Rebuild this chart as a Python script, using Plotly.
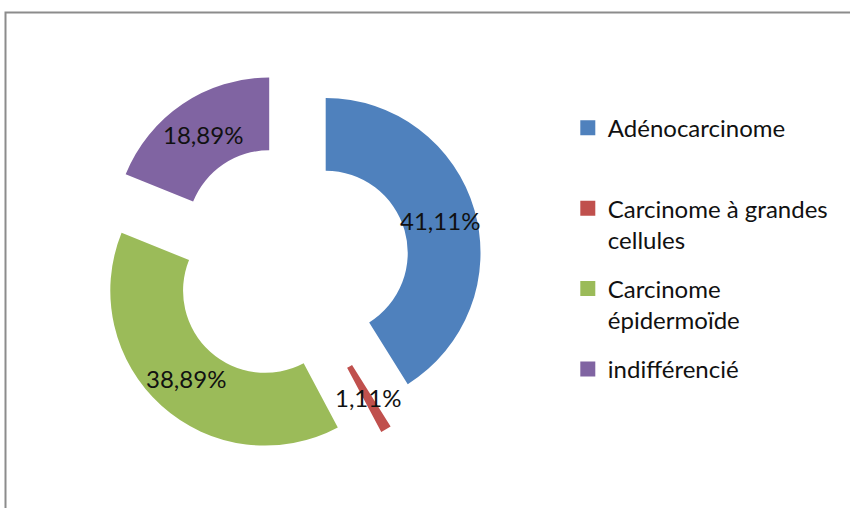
import math
import plotly.graph_objects as go

# Répartition des types histologiques (%)
labels = ["Adénocarcinome", "Carcinome à grandes cellules", "Carcinome épidermoïde", "indifférencié"]
legend_text = ["Adénocarcinome<br> ", "Carcinome à grandes<br>cellules",
               "Carcinome<br>épidermoïde", "indifférencié<br> "]
values = [41.11, 1.11, 38.89, 18.89]
colors = ["#4F81BD", "#C0504D", "#9BBB59", "#8064A2"]

W, H = 850, 508
HOLE = 0.53
PULL = 0.24
DOM_X = [0.1153, 0.567]
DOM_Y = [0.104, 0.860]
FONT = "Lato"

fig = go.Figure()
fig.add_trace(go.Pie(
    labels=labels,
    values=values,
    hole=HOLE,
    pull=[PULL] * len(values),
    sort=False,
    direction="clockwise",
    rotation=0,
    marker=dict(colors=colors, line=dict(width=0)),
    textinfo="none",
    hoverinfo="label+percent",
    domain=dict(x=DOM_X, y=DOM_Y),
    showlegend=False,
))

# Légende : une entrée par type histologique
for name, txt, col in zip(labels, legend_text, colors):
    fig.add_trace(go.Scatter(
        x=[None], y=[None], mode="markers", name=txt, legendgroup=name,
        marker=dict(symbol="square", size=15, color=col),
        hoverinfo="skip",
    ))

# Étiquettes de pourcentage au milieu de l'anneau de chaque secteur
cx = W * (DOM_X[0] + DOM_X[1]) / 2
cy = H * (1 - (DOM_Y[0] + DOM_Y[1]) / 2)
r = min(W * (DOM_X[1] - DOM_X[0]), H * (DOM_Y[1] - DOM_Y[0])) / 2 / (1 + PULL)
total = sum(values)
start = 0.0
annotations = []
for v in values:
    mid = (start + v / 2) / total * 2 * math.pi
    start += v
    rr = r * PULL + r * (1 + HOLE) / 2
    px = cx + rr * math.sin(mid)
    py = cy - rr * math.cos(mid)
    annotations.append(dict(
        x=px / W, y=1 - py / H, xref="paper", yref="paper",
        xanchor="center", yanchor="middle",
        text=f"{v:.2f}".replace(".", ",") + "%",
        showarrow=False, font=dict(family=FONT, size=24, color="#111111"),
    ))

fig.update_layout(
    width=W, height=H,
    margin=dict(l=0, r=0, t=0, b=0),
    paper_bgcolor="white",
    plot_bgcolor="white",
    xaxis=dict(visible=False),
    yaxis=dict(visible=False),
    showlegend=True,
    legend=dict(
        x=0.668, y=0.792, xanchor="left", yanchor="top",
        valign="top", traceorder="grouped", tracegroupgap=15,
        font=dict(family=FONT, size=24, color="#111111"),
        bgcolor="rgba(0,0,0,0)",
    ),
    annotations=annotations,
    shapes=[dict(
        type="rect", xref="paper", yref="paper",
        x0=5.5 / W, x1=1.02, y0=-0.02, y1=1 - 12.5 / H,
        line=dict(color="#8C8C8C", width=2),
    )],
)

fig.write_html("out.html")
